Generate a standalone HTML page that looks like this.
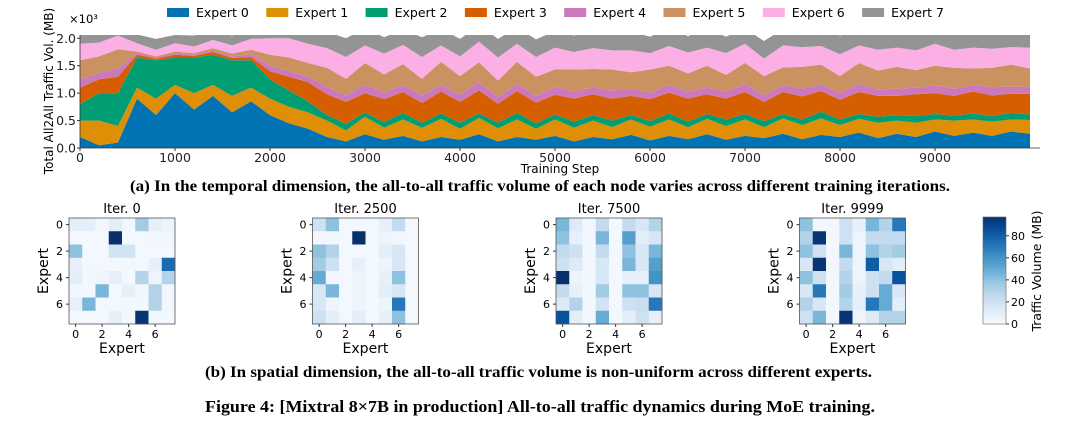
<!DOCTYPE html>
<html><head><meta charset="utf-8"><style>
body{margin:0;background:#fff;width:1080px;height:434px;overflow:hidden}
svg{display:block;font-family:"DejaVu Sans","Liberation Sans",sans-serif}
.cap{font-family:"Liberation Serif",serif;font-weight:bold}
</style></head><body>
<svg id="fig" width="1080" height="434" xmlns="http://www.w3.org/2000/svg"></svg>
<script>
// ---- stacked area data (steps every 200) ----
const steps = [0,200,400,600,800,1000,1200,1400,1600,1800,2000,2200,2400,2600,2800,3000,3200,3400,3600,3800,4000,4200,4400,4600,4800,5000,5200,5400,5600,5800,6000,6200,6400,6600,6800,7000,7200,7400,7600,7800,8000,8200,8400,8600,8800,9000,9200,9400,9600,9800,10000];
const expert0 = [0.2,0.05,0.1, 0.9,0.6,1.0,0.7,0.95,0.65,0.85, 0.6,0.45,0.35, 0.2,0.12,0.25,0.15,0.22,0.12,0.2,0.15,0.25,0.12,0.2,0.15,0.22,0.12,0.2,0.16,0.24,0.14,0.22,0.16,0.25,0.15,0.22,0.18,0.26,0.16,0.24,0.2,0.28,0.18,0.26,0.2,0.3,0.22,0.28,0.22,0.3,0.26];
const expert1 = [0.3,0.45,0.3, 0.2,0.3,0.15,0.3,0.2,0.3,0.25, 0.3,0.3,0.3, 0.3,0.2,0.32,0.22,0.3,0.25,0.33,0.2,0.3,0.24,0.32,0.2,0.3,0.25,0.3,0.22,0.28,0.25,0.3,0.22,0.28,0.25,0.3,0.2,0.28,0.26,0.3,0.22,0.25,0.28,0.24,0.26,0.22,0.28,0.24,0.26,0.22,0.25];
const expert2 = [0.3,0.5,0.6, 0.55,0.7,0.5,0.65,0.55,0.65,0.5, 0.35,0.3,0.2, 0.1,0.12,0.08,0.1,0.12,0.09,0.1,0.11,0.08,0.1,0.12,0.1,0.09,0.11,0.1,0.12,0.08,0.1,0.11,0.1,0.09,0.12,0.1,0.11,0.08,0.1,0.12,0.1,0.09,0.11,0.1,0.12,0.1,0.09,0.11,0.1,0.12,0.1];
const expert3 = [0.3,0.25,0.3, 0.05,0.03,0.05,0.03,0.05,0.04,0.06, 0.15,0.25,0.35, 0.38,0.4,0.35,0.42,0.38,0.36,0.4,0.38,0.42,0.35,0.4,0.38,0.36,0.42,0.38,0.4,0.35,0.4,0.38,0.42,0.36,0.38,0.4,0.35,0.4,0.42,0.38,0.36,0.4,0.38,0.35,0.4,0.38,0.36,0.4,0.38,0.35,0.38];
const expert4 = [0.15,0.12,0.15, 0.03,0.02,0.03,0.02,0.03,0.03,0.05, 0.1,0.1,0.1, 0.13,0.12,0.15,0.12,0.13,0.14,0.12,0.13,0.15,0.12,0.13,0.12,0.14,0.13,0.12,0.15,0.13,0.12,0.14,0.13,0.12,0.13,0.15,0.12,0.13,0.14,0.12,0.13,0.15,0.12,0.13,0.12,0.14,0.13,0.12,0.15,0.13,0.12];
const expert5 = [0.35,0.3,0.35, 0.03,0.02,0.03,0.03,0.04,0.05,0.08, 0.2,0.25,0.25, 0.35,0.3,0.4,0.33,0.38,0.3,0.42,0.34,0.36,0.3,0.4,0.35,0.32,0.4,0.34,0.38,0.3,0.42,0.35,0.33,0.4,0.3,0.38,0.35,0.32,0.4,0.36,0.3,0.38,0.34,0.4,0.32,0.36,0.38,0.3,0.35,0.4,0.34];
const expert6 = [0.3,0.25,0.25, 0.15,0.12,0.15,0.12,0.15,0.15,0.2, 0.3,0.35,0.35, 0.36,0.4,0.32,0.38,0.35,0.4,0.3,0.36,0.38,0.42,0.33,0.36,0.4,0.32,0.38,0.35,0.4,0.3,0.36,0.38,0.33,0.4,0.35,0.32,0.4,0.36,0.34,0.4,0.32,0.38,0.35,0.36,0.4,0.33,0.38,0.35,0.32,0.38];
const expert7 = [0.3,0.25,0.3, 0.16,0.2,0.15,0.2,0.16,0.18,0.16, 0.3,0.3,0.3, 0.3,0.34,0.32,0.3,0.28,0.36,0.3,0.32,0.3,0.34,0.3,0.32,0.3,0.3,0.32,0.28,0.34,0.3,0.32,0.3,0.34,0.3,0.28,0.32,0.3,0.3,0.32,0.34,0.3,0.3,0.32,0.3,0.3,0.32,0.34,0.3,0.3,0.32];
const seriesNames = ["Expert 0","Expert 1","Expert 2","Expert 3","Expert 4","Expert 5","Expert 6","Expert 7"];
const xTicks = [0,1000,2000,3000,4000,5000,6000,7000,8000,9000];
const yTicks = [0.0,0.5,1.0,1.5,2.0];
// ---- heatmap data ----
const heatTitles = ["Iter. 0","Iter. 2500","Iter. 7500","Iter. 9999"];
const heat0 = [[10,10,3,10,3,35,8,5],[2,2,2,97,2,2,3,3],[40,2,2,18,18,2,2,2],[8,2,2,2,2,2,8,75],[10,2,5,8,2,30,5,30],[3,2,45,2,8,3,30,3],[8,45,2,2,2,2,30,3],[2,2,2,8,2,95,3,2]];
const heat2500 = [[20,40,2,2,2,8,25,2],[3,3,2,97,2,5,3,2],[40,30,2,2,2,10,15,2],[35,20,2,8,2,5,15,2],[50,3,2,5,2,8,40,2],[15,45,2,5,2,10,15,2],[15,5,2,5,2,5,70,2],[20,10,2,10,2,8,40,2]];
const heat7500 = [[45,12,3,25,2,25,15,30],[40,8,3,45,2,55,10,15],[25,20,3,25,2,40,15,45],[20,12,3,15,2,45,15,55],[97,5,3,15,2,8,8,60],[25,8,3,35,2,40,40,15],[12,30,3,18,2,20,22,70],[85,10,3,50,2,10,20,8]];
const heat9999 = [[40,3,3,20,8,45,30,70],[30,95,3,20,5,25,25,25],[40,20,3,45,5,40,30,35],[15,95,3,25,5,80,15,10],[40,20,3,30,5,20,25,85],[15,70,3,35,8,20,50,15],[30,15,3,30,8,70,50,10],[20,45,3,95,5,12,30,30]];
const cbTicks = [0,20,40,60,80];

const NS="http://www.w3.org/2000/svg", svg=document.getElementById('fig');
function mk(tag,attrs,parent,text){const e=document.createElementNS(NS,tag);for(const k in attrs)e.setAttribute(k,attrs[k]);if(text!==undefined)e.textContent=text;(parent||svg).appendChild(e);return e;}
const colors=["#0173b2","#de8f05","#029e73","#d55e00","#cc78bc","#ca9161","#fbafe4","#949494"];
const series=[expert0,expert1,expert2,expert3,expert4,expert5,expert6,expert7];
const PL=80,PR=1040,PT=35,PB=148,XMAX=10105,YMAX=2.06;
const sx=v=>PL+(PR-PL)*v/XMAX, sy=v=>PB-(PB-PT)*v/YMAX;
const defs=mk('defs',{});
const cp=mk('clipPath',{id:'pc'},defs);
mk('rect',{x:PL,y:PT,width:PR-PL,height:PB-PT},cp);
const g=mk('g',{'clip-path':'url(#pc)'});


let base=steps.map(()=>0);
series.forEach((s,k)=>{
  const top=base.map((b,i)=>b+s[i]);
  let d='M'+steps.map((x,i)=>sx(x)+','+sy(top[i])).join('L');
  for(let i=steps.length-1;i>=0;i--)d+='L'+sx(steps[i])+','+sy(base[i]);
  const p=mk('path',{d:d+'Z',fill:colors[k]},g);
  
  
  base=top;
});
const ax=mk('g',{'font-size':'12.5',fill:'#222'});


mk('line',{x1:PL,y1:PB,x2:PR,y2:PB,stroke:'#333','stroke-width':0.8},ax);
mk('line',{x1:PL,y1:PT,x2:PL,y2:PB,stroke:'#333','stroke-width':0.8},ax);
xTicks.forEach(t=>{mk('line',{x1:sx(t),x2:sx(t),y1:PB,y2:PB+3,stroke:'#333'},ax);const e=mk('text',{x:sx(t),y:PB+14,'text-anchor':'middle'},ax,String(t));});
yTicks.forEach(t=>{mk('line',{x1:PL-3,x2:PL,y1:sy(t),y2:sy(t),stroke:'#333'},ax);const e=mk('text',{x:PL-4,y:sy(t)+4.5,'text-anchor':'end'},ax,t.toFixed(1));});
let e=mk('text',{x:560,y:173,'text-anchor':'middle','font-size':'12'},svg,'Training Step');
e=mk('text',{transform:'translate(53,91) rotate(-90)','text-anchor':'middle','font-size':'12'},svg,'Total All2All Traffic Vol. (MB)');
e=mk('text',{x:69,y:23,'font-size':'11.5'},svg,'×10³');
seriesNames.forEach((n,k)=>{const x=167+k*99.3;const lg=mk('g',{});mk('rect',{x:x,y:8,width:22,height:9,fill:colors[k]},lg);mk('text',{x:x+29,y:17,'font-size':'12.5'},lg,n);});
e=mk('text',{x:130,y:191,'font-size':'16',class:'cap',textLength:820,lengthAdjust:'spacingAndGlyphs'},svg,'(a) In the temporal dimension, the all-to-all traffic volume of each node varies across different training iterations.');
// heatmaps
const stops=["#f7fbff","#deebf7","#c6dbef","#9ecae1","#6baed6","#4292c6","#2171b5","#08519c","#08306b"];
function hx(c){return [1,3,5].map(i=>parseInt(c.substr(i,2),16));}
const VMAX=97;
function cmap(v){let t=Math.max(0,Math.min(1,v/VMAX))*8;const i=Math.min(7,Math.floor(t)),f=t-i;const a=hx(stops[i]),b=hx(stops[i+1]);return 'rgb('+a.map((c,j)=>Math.round(c+(b[j]-c)*f)).join(',')+')';}
const mats=[heat0,heat2500,heat7500,heat9999];
mats.forEach((m,h)=>{
  const L=69+h*243.5,T=218,S=106,c=S/8;
  const hg=mk('g',{});
  m.forEach((row,r)=>row.forEach((v,cI)=>{const cell=mk('rect',{x:L+cI*c,y:T+r*c,width:c+0.3,height:c+0.3,fill:cmap(v)},hg);}));
  mk('rect',{x:L,y:T,width:S,height:S,fill:'none',stroke:'#555','stroke-width':0.8},hg);
  mk('text',{x:L+S/2,y:T-5,'text-anchor':'middle','font-size':'13'},hg,heatTitles[h]);
  [0,2,4,6].forEach(t=>{const p=L+(t+0.5)*c,q=T+(t+0.5)*c;
    mk('line',{x1:p,x2:p,y1:T+S,y2:T+S+3,stroke:'#333'},hg);mk('text',{x:p,y:T+S+14,'text-anchor':'middle','font-size':'11'},hg,String(t));
    mk('line',{x1:L-3,x2:L,y1:q,y2:q,stroke:'#333'},hg);mk('text',{x:L-6,y:q+4,'text-anchor':'end','font-size':'11'},hg,String(t));});
  mk('text',{x:L+S/2,y:T+S+29,'text-anchor':'middle','font-size':'14'},hg,'Expert');
  mk('text',{transform:'translate('+(L-21)+','+(T+S/2)+') rotate(-90)','text-anchor':'middle','font-size':'14'},hg,'Expert');
});
// colorbar
const cb=mk('g',{});
const gr=mk('linearGradient',{id:'cbg',x1:0,y1:1,x2:0,y2:0},defs);
stops.forEach((s,i)=>mk('stop',{offset:i/8,'stop-color':s},gr));
const CX=983,CT=217,CB=324,CW=23;
mk('rect',{x:CX,y:CT,width:CW,height:CB-CT,fill:'url(#cbg)',stroke:'#666','stroke-width':0.6},cb);
cbTicks.forEach(t=>{const y=CB-(CB-CT)*t/VMAX;mk('line',{x1:CX+CW,x2:CX+CW+3,y1:y,y2:y,stroke:'#333'},cb);mk('text',{x:CX+CW+5,y:y+4,'font-size':'11'},cb,String(t));});
mk('text',{transform:'translate(1041,271) rotate(-90)','text-anchor':'middle','font-size':'12.5'},cb,'Traffic Volume (MB)');
e=mk('text',{x:205,y:377,'font-size':'16',class:'cap',textLength:667,lengthAdjust:'spacingAndGlyphs'},svg,'(b) In spatial dimension, the all-to-all traffic volume is non-uniform across different experts.');
e=mk('text',{x:205,y:412,'font-size':'17',class:'cap',textLength:670,lengthAdjust:'spacingAndGlyphs'},svg,'Figure 4: [Mixtral 8×7B in production] All-to-all traffic dynamics during MoE training.');
</script>
</body></html>
